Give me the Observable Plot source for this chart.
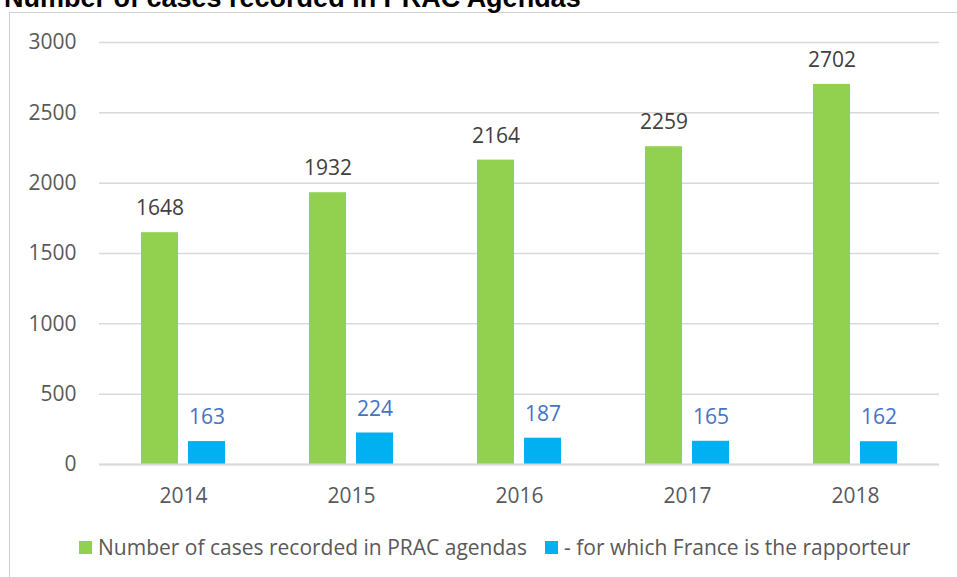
<!DOCTYPE html>
<html>
<head>
<meta charset="utf-8">
<script src="https://cdn.jsdelivr.net/npm/d3@7"></script>
<script src="https://cdn.jsdelivr.net/npm/@observablehq/plot@0.6"></script>
<style>
  html, body { margin: 0; padding: 0; background: #fff; }
  #wrap { position: relative; width: 957px; height: 577px; overflow: hidden; }
  #title { position: absolute; left: 4px; top: -15px; font: bold 27px "Liberation Sans", Arial, sans-serif; line-height: 1; color: #000; white-space: nowrap; }
  #box { position: absolute; left: 9px; top: 12px; right: -5px; bottom: -5px; border-left: 1px solid #d0d0d0; border-top: 1px solid #d0d0d0; }
  #chart { position: absolute; left: 0; top: 0; }
  #legend { position: absolute; left: 79px; top: 533px; display: flex; align-items: center; font: 21px "Open Sans", sans-serif; color: #595959; white-space: nowrap; }
  .sw { width: 13px; height: 13px; display: inline-block; margin-right: 6px; }
</style>
</head>
<body>
<div id="wrap">
  <div id="box"></div>
  <div id="title">Number of cases recorded in PRAC Agendas</div>
  <div id="chart"></div>
  <div id="legend"></div>
</div>
<script>
const years = ["2014", "2015", "2016", "2017", "2018"];
const totalCases = [1648, 1932, 2164, 2259, 2702];
const franceCases = [163, 224, 187, 165, 162];
const seriesNames = ["Number of cases recorded in PRAC agendas", "- for which France is the rapporteur"];
const seriesColors = ["#92D050", "#00B0F0"];
const labelColors = ["#404040", "#4472C4"];
const yTicks = [0, 500, 1000, 1500, 2000, 2500, 3000];

const data = [];
years.forEach((yr, i) => {
  data.push({year: yr, series: seriesNames[0], value: totalCases[i]});
  data.push({year: yr, series: seriesNames[1], value: franceCases[i]});
});

const chart = Plot.plot({
  width: 957,
  height: 520,
  marginLeft: 97,
  marginRight: 17,
  marginTop: 42,
  marginBottom: 56,
  style: {fontFamily: "'Open Sans', sans-serif", fontSize: "21px", color: "#595959", background: "transparent"},
  fx: {domain: years, padding: 0, label: null, axis: "bottom", tickSize: 0, tickPadding: 24},
  x: {domain: seriesNames, paddingInner: 0.21, paddingOuter: 0.88, axis: null},
  y: {domain: [0, 3000], ticks: yTicks, tickFormat: d3.format("d"), label: null, tickSize: 0, tickPadding: 23},
  color: {domain: seriesNames, range: seriesColors},
  marks: [
    Plot.gridY(yTicks, {stroke: "#d9d9d9", strokeOpacity: 1, strokeWidth: 1.5}),
    Plot.barY(data, {fx: "year", x: "series", y: "value", fill: "series"}),
    Plot.text(data, {fx: "year", x: "series", y: "value", text: d => String(d.value), dy: -24,
      fill: d => labelColors[seriesNames.indexOf(d.series)], fontSize: 21}),
    Plot.ruleY([0], {stroke: "#d9d9d9", strokeWidth: 2})
  ]
});
document.getElementById("chart").appendChild(chart);

const legend = document.getElementById("legend");
seriesNames.forEach((name, i) => {
  const item = document.createElement("span");
  item.style.display = "inline-flex";
  item.style.alignItems = "center";
  if (i === 0) item.style.marginRight = "18px";
  const sw = document.createElement("span");
  sw.className = "sw";
  sw.style.background = seriesColors[i];
  item.appendChild(sw);
  item.appendChild(document.createTextNode(name));
  legend.appendChild(item);
});
</script>
</body>
</html>
